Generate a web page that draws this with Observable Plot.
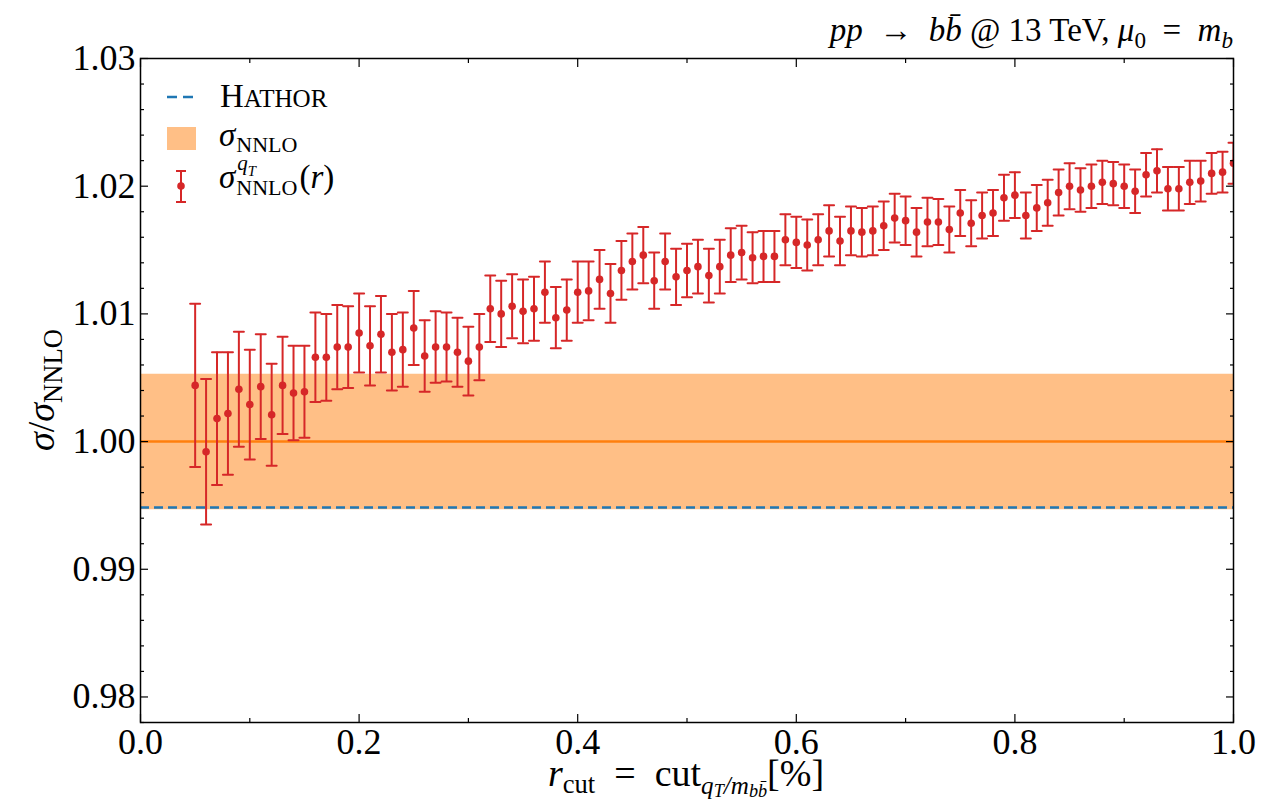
<!DOCTYPE html>
<html><head><meta charset="utf-8">
<script src="https://cdn.jsdelivr.net/npm/d3@7"></script>
<script src="https://cdn.jsdelivr.net/npm/@observablehq/plot@0.6"></script>
<style>body{margin:0;background:#fff} svg{display:block} text{white-space:pre}</style>
</head><body><div id="chart"></div>
<script>
const rcut = [0.05,0.06,0.07,0.08,0.09,0.10,0.11,0.12,0.13,0.14,0.15,0.16,0.17,0.18,0.19,0.20,0.21,0.22,0.23,0.24,0.25,0.26,0.27,0.28,0.29,0.30,0.31,0.32,0.33,0.34,0.35,0.36,0.37,0.38,0.39,0.40,0.41,0.42,0.43,0.44,0.45,0.46,0.47,0.48,0.49,0.50,0.51,0.52,0.53,0.54,0.55,0.56,0.57,0.58,0.59,0.60,0.61,0.62,0.63,0.64,0.65,0.66,0.67,0.68,0.69,0.70,0.71,0.72,0.73,0.74,0.75,0.76,0.77,0.78,0.79,0.80,0.81,0.82,0.83,0.84,0.85,0.86,0.87,0.88,0.89,0.90,0.91,0.92,0.93,0.94,0.95,0.96,0.97,0.98,0.99,1.00];
const ratio = [1.0044,0.9992,1.0018,1.0022,1.0041,1.0029,1.0043,1.0021,1.0044,1.0038,1.0039,1.0066,1.0066,1.0074,1.0074,1.0085,1.0075,1.0084,1.0070,1.0072,1.0089,1.0067,1.0074,1.0074,1.0070,1.0063,1.0074,1.0104,1.0100,1.0106,1.0102,1.0104,1.0117,1.0097,1.0103,1.0117,1.0118,1.0127,1.0116,1.0134,1.0141,1.0146,1.0126,1.0141,1.0129,1.0134,1.0137,1.0130,1.0137,1.0146,1.0148,1.0144,1.0145,1.0145,1.0158,1.0156,1.0154,1.0158,1.0165,1.0157,1.0165,1.0164,1.0165,1.0169,1.0175,1.0173,1.0164,1.0172,1.0172,1.0166,1.0179,1.0171,1.0177,1.0179,1.0191,1.0193,1.0177,1.0183,1.0187,1.0195,1.0200,1.0197,1.0200,1.0203,1.0202,1.0200,1.0196,1.0209,1.0212,1.0198,1.0198,1.0203,1.0204,1.0210,1.0211,1.0218];
const err = [0.0064,0.0057,0.0052,0.0048,0.0045,0.0043,0.0041,0.0040,0.0038,0.0037,0.0036,0.0035,0.0034,0.0033,0.0032,0.0031,0.0031,0.0030,0.0030,0.0029,0.0029,0.0028,0.0028,0.0027,0.0027,0.0027,0.0026,0.0026,0.0026,0.0025,0.0025,0.0025,0.0024,0.0024,0.0024,0.0024,0.0023,0.0023,0.0023,0.0023,0.0022,0.0022,0.0022,0.0022,0.0022,0.0021,0.0021,0.0021,0.0021,0.0021,0.0021,0.0020,0.0020,0.0020,0.0020,0.0020,0.0020,0.0020,0.0020,0.0019,0.0019,0.0019,0.0019,0.0019,0.0019,0.0019,0.0019,0.0019,0.0018,0.0018,0.0018,0.0018,0.0018,0.0018,0.0018,0.0018,0.0018,0.0018,0.0018,0.0018,0.0018,0.0017,0.0017,0.0017,0.0017,0.0017,0.0017,0.0017,0.0017,0.0017,0.0017,0.0017,0.0016,0.0016,0.0016,0.0016];
const hathor = 0.99484;
const nnloBand = [0.99466, 1.00527];
const nnloCentral = 1.0;
const bandX = [0, 1];
const xTicks = [0, 0.2, 0.4, 0.6, 0.8, 1.0];
const xMinorTicks = [0.1, 0.3, 0.5, 0.7, 0.9];
const yTicks = [0.98, 0.99, 1.00, 1.01, 1.02, 1.03];
const yMinorTicks = [0.978,0.982,0.984,0.986,0.988,0.992,0.994,0.996,0.998,1.002,1.004,1.006,1.008,1.012,1.014,1.016,1.018,1.022,1.024,1.026,1.028];

const RED = "#d62728", ORANGE = "#ff7f0e", BLUE = "#1f77b4";
const FONT = "Liberation Serif";
const data = rcut.map((x, i) => ({x, y: ratio[i], e: err[i]}));
const capShape = {draw(ctx, l) { ctx.moveTo(-l / 2, 0); ctx.lineTo(l / 2, 0); }};

const tickAxes = [];
for (const a of ["bottom", "top"]) {
  tickAxes.push(Plot.axisX({anchor: a, ticks: xTicks, tickSize: -8, tickFormat: () => "", label: null, strokeWidth: 1.2}));
  tickAxes.push(Plot.axisX({anchor: a, ticks: xMinorTicks, tickSize: -4, tickFormat: () => "", label: null, strokeWidth: 1.2}));
}
for (const a of ["left", "right"]) {
  tickAxes.push(Plot.axisY({anchor: a, ticks: yTicks, tickSize: -8, tickFormat: () => "", label: null, strokeWidth: 1.2}));
  tickAxes.push(Plot.axisY({anchor: a, ticks: yMinorTicks, tickSize: -4, tickFormat: () => "", label: null, strokeWidth: 1.2}));
}

const svg = Plot.plot({
  width: 1285, height: 802,
  marginLeft: 140, marginRight: 52, marginTop: 58, marginBottom: 80,
  style: {fontFamily: FONT, background: "white", color: "black"},
  x: {domain: [0, 1]},
  y: {domain: [0.978, 1.03]},
  marks: [
    Plot.areaY(bandX, {x: d => d, y1: () => nnloBand[0], y2: () => nnloBand[1], fill: ORANGE, fillOpacity: 0.5}),
    Plot.ruleY([nnloCentral], {stroke: ORANGE, strokeWidth: 2.5}),
    Plot.ruleY([hathor], {stroke: BLUE, strokeWidth: 2.5, strokeDasharray: "9,5"}),
    Plot.ruleX(data, {x: "x", y1: d => d.y - d.e, y2: d => d.y + d.e, stroke: RED, strokeWidth: 2, clip: true}),
    Plot.vector(data, {x: "x", y: d => d.y + d.e, length: 10, rotate: 0, anchor: "start", shape: capShape, stroke: RED, strokeWidth: 2, clip: true}),
    Plot.vector(data, {x: "x", y: d => d.y - d.e, length: 10, rotate: 0, anchor: "start", shape: capShape, stroke: RED, strokeWidth: 2, clip: true}),
    Plot.dot(data, {x: "x", y: "y", r: 3.8, fill: RED, clip: true}),
    Plot.frame({stroke: "black", strokeWidth: 1.5}),
    ...tickAxes,
    Plot.axisX({anchor: "bottom", ticks: xTicks, tickSize: 0, tickPadding: 6, tickFormat: d3.format(".1f"), fontSize: 36, fontFamily: FONT, label: null}),
    Plot.axisY({anchor: "left", ticks: yTicks, tickSize: 0, tickPadding: 5, tickFormat: d3.format(".2f"), fontSize: 36, fontFamily: FONT, label: null})
  ]
});
document.getElementById("chart").append(svg);

const root = d3.select(svg);
const g = root.append("g").attr("font-family", FONT).attr("fill", "black");

function rich(sel, x, y, size, parts, anchor = "start", transform = null) {
  const t = sel.append("text").attr("x", x).attr("y", y).attr("font-size", size)
    .attr("text-anchor", anchor).attr("fill", "black").attr("font-family", FONT);
  if (transform) t.attr("transform", transform);
  let cur = 0;
  for (const p of parts) {
    const sh = (p.s || 0) * size;
    const ts = t.append("tspan").attr("dy", sh - cur).text(p.t);
    cur = sh;
    if (p.i) ts.attr("font-style", "italic");
    if (p.z) ts.attr("font-size", size * p.z);
  }
  return t;
}

// Title
rich(g, 1233, 41, 33, [
  {t: "pp", i: 1}, {t: "\u2002→\u2002"}, {t: "b", i: 1}, {t: "b\u0304", i: 1}, {t: " @ 13 TeV, "},
  {t: "μ", i: 1}, {t: "0", s: 0.22, z: 0.7}, {t: "\u2002=\u2002"}, {t: "m", i: 1}, {t: "b", i: 1, s: 0.22, z: 0.7}
], "end");

// Y label
rich(g, 0, 0, 38, [
  {t: "σ", i: 1}, {t: "/"}, {t: "σ", i: 1}, {t: "NNLO", s: 0.22, z: 0.7}
], "middle", "translate(54,390) rotate(-90)");

// X label
rich(g, 686, 786, 38, [
  {t: "r", i: 1}, {t: "cut", s: 0.18, z: 0.7}, {t: "\u2002=\u2002cut"},
  {t: "q", i: 1, s: 0.2, z: 0.66}, {t: "T", i: 1, s: 0.28, z: 0.48}, {t: "/m", i: 1, s: 0.2, z: 0.66},
  {t: "bb\u0304", i: 1, s: 0.28, z: 0.48}, {t: "[%]"}
], "middle");

// Legend
g.append("line").attr("x1", 167).attr("x2", 193).attr("y1", 97).attr("y2", 97)
  .attr("stroke", BLUE).attr("stroke-width", 2.5).attr("stroke-dasharray", "10,6");
rich(g, 220, 107, 33, [{t: "H"}, {t: "ATHOR", z: 0.76}]);

g.append("rect").attr("x", 167).attr("y", 127).attr("width", 29).attr("height", 23)
  .attr("fill", ORANGE).attr("fill-opacity", 0.5);
const s2 = rich(g, 219, 146, 33, [{t: "σ", i: 1}]);
const w2 = s2.node().getComputedTextLength();
rich(g, 219 + w2 + 1, 152, 22, [{t: "NNLO"}]);

g.append("line").attr("x1", 181).attr("x2", 181).attr("y1", 171).attr("y2", 202).attr("stroke", RED).attr("stroke-width", 2);
g.append("line").attr("x1", 176).attr("x2", 186).attr("y1", 171).attr("y2", 171).attr("stroke", RED).attr("stroke-width", 2);
g.append("line").attr("x1", 176).attr("x2", 186).attr("y1", 202).attr("y2", 202).attr("stroke", RED).attr("stroke-width", 2);
g.append("circle").attr("cx", 181).attr("cy", 186).attr("r", 3.8).attr("fill", RED);
const s3 = rich(g, 219, 188, 33, [{t: "σ", i: 1}]);
const w3 = s3.node().getComputedTextLength();
const sub3 = rich(g, 219 + w3 + 1, 195, 22, [{t: "NNLO"}]);
const ws = sub3.node().getComputedTextLength();
rich(g, 219 + w3 + 2, 170, 21, [{t: "q", i: 1}, {t: "T", i: 1, s: 0.3, z: 0.7}]);
rich(g, 219 + w3 + ws + 3, 188, 33, [{t: "("}, {t: "r", i: 1}, {t: ")"}]);
</script>
</body></html>
